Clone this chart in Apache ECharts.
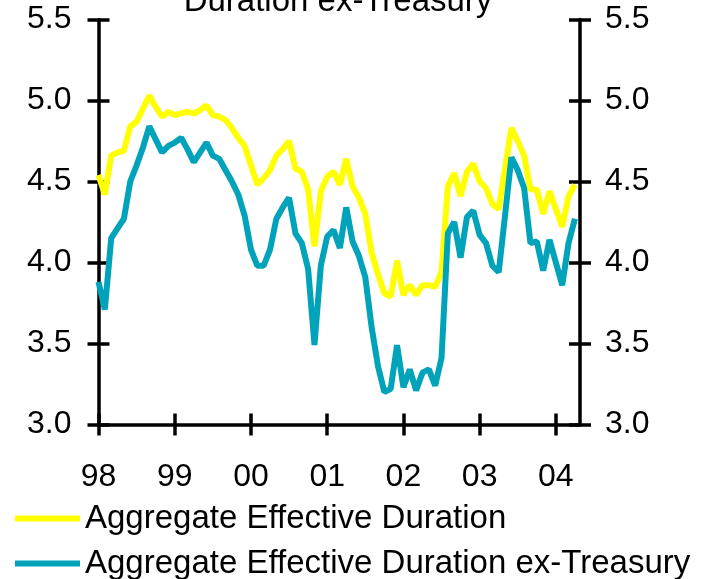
<!DOCTYPE html>
<html>
<head>
<meta charset="UTF-8">
<title>Duration ex-Treasury</title>
<script src="https://cdn.jsdelivr.net/npm/echarts@6/dist/echarts.min.js"></script>
<style>
  html, body { margin: 0; padding: 0; background: #fff; }
  #chart { width: 702px; height: 579px; }
</style>
</head>
<body>
<div id="chart"></div>
<script>
// monthly, Jan 1998 .. Apr 2004
const yearLabels = ['98', '99', '00', '01', '02', '03', '04'];
const seriesNames = ['Aggregate Effective Duration', 'Aggregate Effective Duration ex-Treasury'];

const aggDuration = [
  4.54, 4.42, 4.66, 4.68, 4.69, 4.84, 4.87, 4.95, 5.03, 4.96, 4.90, 4.93,
  4.91, 4.92, 4.93, 4.92, 4.94, 4.97, 4.91, 4.90, 4.88, 4.83, 4.77, 4.72,
  4.60, 4.48, 4.52, 4.57, 4.66, 4.70, 4.75, 4.58, 4.56, 4.45, 4.10, 4.44,
  4.53, 4.56, 4.48, 4.64, 4.47, 4.40, 4.30, 4.06, 3.93, 3.81, 3.79, 4.01,
  3.80, 3.86, 3.80, 3.86, 3.86, 3.85, 3.94, 4.47, 4.55, 4.41, 4.56, 4.61,
  4.50, 4.46, 4.36, 4.33, 4.58, 4.83, 4.75, 4.66, 4.45, 4.45, 4.30, 4.44,
  4.33, 4.22, 4.41, 4.48
];

const aggDurationExTsy = [
  3.88, 3.71, 4.15, 4.21, 4.27, 4.50, 4.60, 4.71, 4.84, 4.76, 4.68, 4.72,
  4.74, 4.77, 4.70, 4.62, 4.68, 4.74, 4.66, 4.64, 4.57, 4.50, 4.42, 4.29,
  4.08, 3.98, 3.98, 4.08, 4.27, 4.34, 4.40, 4.18, 4.12, 3.96, 3.49, 3.98,
  4.16, 4.20, 4.09, 4.34, 4.13, 4.04, 3.91, 3.60, 3.36, 3.20, 3.22, 3.49,
  3.23, 3.34, 3.21, 3.32, 3.34, 3.24, 3.41, 4.18, 4.25, 4.03, 4.28, 4.32,
  4.17, 4.12, 3.98, 3.94, 4.29, 4.65, 4.57, 4.46, 4.12, 4.13, 3.95, 4.14,
  4.00, 3.86, 4.12, 4.27
];

const font = 'Liberation Sans';
const yearTicks = yearLabels.map((_, i) => i * 12);

function toPoints(vals) {
  return vals.map((v, i) => [i, v]);
}

const chart = echarts.init(document.getElementById('chart'));

function yAxisDef(pos, inside, labels) {
  return {
    type: 'value', position: pos, min: 3, max: 5.5, interval: 0.5,
    splitLine: { show: false },
    axisLine: { show: !inside, lineStyle: { color: '#000', width: 3.5 } },
    axisTick: { show: true, inside: inside, length: 11, lineStyle: { color: '#000', width: 3.5 } },
    axisLabel: {
      show: labels, margin: pos === 'left' ? 27 : 25,
      fontFamily: font, fontSize: 32, color: '#000', padding: [8, 0, 0, 0],
      formatter: v => v.toFixed(1)
    }
  };
}

function xAxisDef(inside, labels) {
  return {
    type: 'value', position: 'bottom', min: 0, max: 75.8, interval: 12,
    splitLine: { show: false },
    axisLine: { show: !inside, onZero: false, lineStyle: { color: '#000', width: 3.5 } },
    axisTick: {
      show: true, inside: inside, length: 11, customValues: yearTicks,
      lineStyle: { color: '#000', width: 3.5 }
    },
    axisLabel: {
      show: labels, margin: 37, customValues: yearTicks,
      fontFamily: font, fontSize: 32, color: '#000',
      formatter: v => yearLabels[Math.round(v / 12)]
    }
  };
}

function legendDef(name, top) {
  return {
    orient: 'vertical', left: 10, top: top,
    icon: 'rect', itemWidth: 65, itemHeight: 6,
    textStyle: { fontFamily: font, fontSize: 33, color: '#000' },
    data: [name]
  };
}

chart.setOption({
  animation: false,
  backgroundColor: '#fff',
  grid: { left: 98.5, right: 122, top: 19.5, bottom: 154.5, containLabel: false },
  graphic: [{
    type: 'text', x: 338, y: 2, z: 10,
    style: {
      text: 'Duration ex-Treasury', font: '33px "Liberation Sans"',
      fill: '#000', align: 'center', verticalAlign: 'middle'
    }
  }],
  legend: [legendDef(seriesNames[0], 497), legendDef(seriesNames[1], 542)],
  xAxis: [xAxisDef(false, true), xAxisDef(true, false)],
  yAxis: [
    yAxisDef('left', false, true),
    yAxisDef('left', true, false),
    yAxisDef('right', false, true),
    yAxisDef('right', true, false)
  ],
  series: [
    {
      name: seriesNames[0], type: 'line',
      data: toPoints(aggDuration), showSymbol: false,
      lineStyle: { color: '#FFFF00', width: 6 }, itemStyle: { color: '#FFFF00' }
    },
    {
      name: seriesNames[1], type: 'line',
      data: toPoints(aggDurationExTsy), showSymbol: false,
      lineStyle: { color: '#00A3BA', width: 6 }, itemStyle: { color: '#00A3BA' }
    }
  ]
});
</script>
</body>
</html>
